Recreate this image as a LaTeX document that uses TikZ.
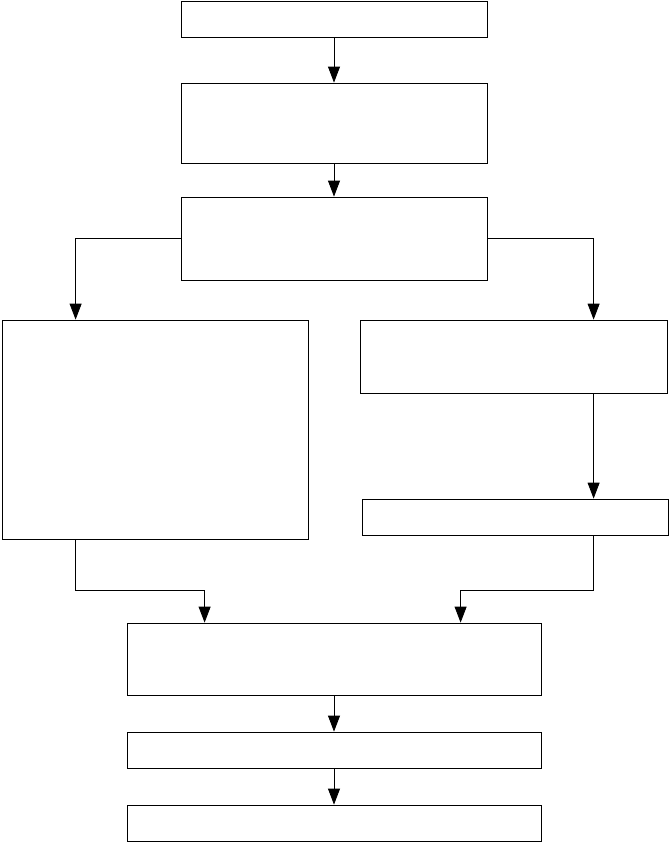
\documentclass[tikz,border=0pt]{standalone}
\usetikzlibrary{arrows.meta,calc}
\begin{document}
\begin{tikzpicture}[x=1pt,y=-1pt,
  box/.style={draw,line width=0.8pt,inner sep=0pt,rectangle},
  arr/.style={line width=0.8pt,-{Triangle[length=16pt,width=12pt]}}]
\useasboundingbox (0,0) rectangle (670,846);
\node[box,minimum width=306pt,minimum height=36pt] (b1) at (334,19) {};
\node[box,minimum width=306pt,minimum height=80pt] (b2) at (334,123) {};
\node[box,minimum width=306pt,minimum height=83pt] (b3) at (334,238.5) {};
\node[box,minimum width=306pt,minimum height=219pt] (b4) at (155,429.5) {};
\node[box,minimum width=307pt,minimum height=73pt] (b5) at (513.5,356.5) {};
\node[box,minimum width=306pt,minimum height=36pt] (b6) at (515,517) {};
\node[box,minimum width=414pt,minimum height=72pt] (b7) at (334,659) {};
\node[box,minimum width=414pt,minimum height=36pt] (b8) at (334,750) {};
\node[box,minimum width=414pt,minimum height=36pt] (b9) at (334,823) {};
\draw[arr] (b1.south) -- (b2.north);
\draw[arr] (b2.south) -- (b3.north);
\draw[arr] (b3.west) -| ([xshift=74pt]b4.north west);
\draw[arr] (b3.east) -| ([xshift=234pt]b5.north west);
\draw[arr] ([xshift=234pt]b5.south west) -- ([xshift=234pt]b5.south west |- b6.north);
\draw[arr] ([xshift=74pt]b4.south west) -- ++(0,51) -| ([xshift=78pt]b7.north west);
\draw[arr] ([xshift=232pt]b6.south west) -- ++(0,55) -| ([xshift=334pt]b7.north west);
\draw[arr] (b7.south) -- (b8.north);
\draw[arr] (b8.south) -- (b9.north);
\end{tikzpicture}
\end{document}
